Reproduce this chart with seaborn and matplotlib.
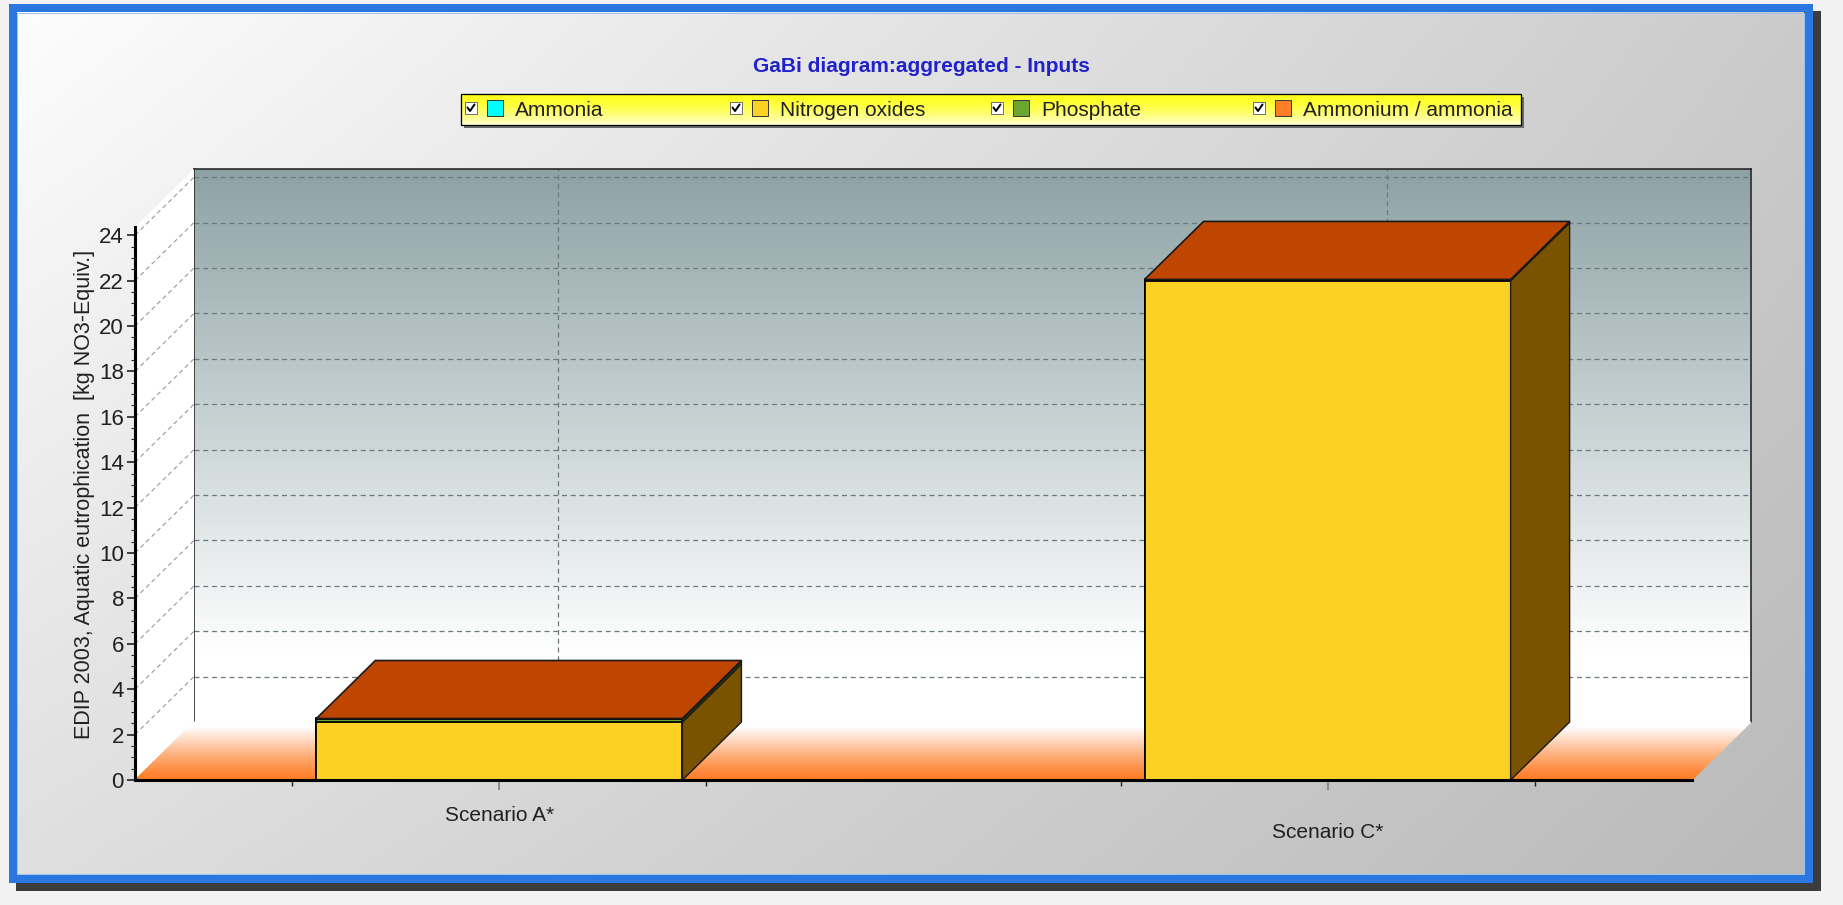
import matplotlib
matplotlib.use("Agg")
import matplotlib.pyplot as plt
from matplotlib.patches import Polygon, Rectangle
from matplotlib.ticker import MultipleLocator
from matplotlib.transforms import ScaledTranslation
import numpy as np
import seaborn as sns

# data
scenarios = ["Scenario A*", "Scenario C*"]
series = ["Ammonia", "Nitrogen oxides", "Phosphate", "Ammonium / ammonia"]
ammonia = [0.0, 0.0]
nitrogen_oxides = [2.55, 22.0]
phosphate = [0.13, 0.02]
ammonium = [0.03, 0.03]
y_ticks = list(range(0, 25, 2))

# colours per series: front, side, top face
front_col = ["#00ffff", "#fcd124", "#6aa630", "#ff7f27"]
side_col = ["#008080", "#7a5300", "#2f5010", "#7a3000"]
top_col = ["#00bfbf", "#bf9a10", "#4c8010", "#bf4600"]

# layout in pixels
W, H, DPI = 1843, 905, 100
PX_L, PX_R, PX_Y0, PX_TOP = 135, 1692, 780, 227
DEPTH_X, DEPTH_Y = 59, 58
XLIM = (-0.44, 1.44)
YLIM = (0, 24.36)
BAR_W = 0.442

sns.set_theme(style="white")
plt.rcParams["font.family"] = ["Liberation Sans", "DejaVu Sans"]

fig = plt.figure(figsize=(W / DPI, H / DPI), dpi=DPI, facecolor="#f2f2f2")

# ---- background, frame, title, legend (pixel coordinates)
bg = fig.add_axes([0, 0, 1, 1], zorder=0)
bg.set_xlim(0, W)
bg.set_ylim(H, 0)
bg.axis("off")

px2pt = 72 / DPI
bg.add_patch(Rectangle((19.5, 15.5), 1796, 870, fill=False, edgecolor="#3c3c3c",
                       linewidth=9 * px2pt, zorder=1))
gx, gy = np.meshgrid(np.linspace(0, 1, 300), np.linspace(0, 1, 150))
v = (253 - 50 * gx - 30 * gy + 13 * gx * gy) / 255
bg.imshow(np.dstack([v, v, v]), extent=(17, 1804, 875, 13), aspect="auto",
          origin="upper", zorder=2)
bg.add_patch(Rectangle((12.5, 8.5), 1796, 870, fill=False, edgecolor="#2a78df",
                       linewidth=8 * px2pt, zorder=3))
bg.add_patch(Rectangle((17, 13), 1787, 861, fill=False, edgecolor="#9cc4ee",
                       linewidth=1 * px2pt, zorder=3))

bg.text(921, 67, "GaBi diagram:aggregated - Inputs", ha="center", va="center",
        fontsize=15, fontweight="bold", color="#2222cc", zorder=5)

# legend box
bg.add_patch(Rectangle((464, 97), 1060, 31, facecolor="#6a6a6a", edgecolor="none", zorder=4))
ly = np.linspace(0, 1, 60)[:, None]
lg = np.dstack([np.ones_like(ly), np.ones_like(ly), 0.12 + 0.7 * ly ** 1.6])
bg.imshow(lg, extent=(461, 1521, 125, 94), aspect="auto", origin="upper", zorder=5)
bg.add_patch(Rectangle((461, 94), 1060, 31, fill=False, edgecolor="black",
                       linewidth=1.3 * px2pt, zorder=6))
for cx, name, col in zip([465, 730, 991, 1253], series, front_col):
    bg.add_patch(Rectangle((cx, 102), 12, 12, facecolor="white", edgecolor="#707070",
                           linewidth=1 * px2pt, zorder=6))
    bg.plot([cx + 2.5, cx + 5, cx + 9.5], [107.5, 111, 104.5], color="black",
            linewidth=2 * px2pt, zorder=7)
    bg.add_patch(Rectangle((cx + 22, 100.5), 16, 16, facecolor=col, edgecolor="#3a3a3a",
                           linewidth=1 * px2pt, zorder=6))
    bg.text(cx + 50, 110, name, ha="left", va="center", fontsize=15,
            color="#202028", zorder=7)

# ---- plot axes
frame_w = (PX_R - PX_L) / W
frame_h = (PX_Y0 - PX_TOP) / H
back = fig.add_axes([(PX_L + DEPTH_X) / W, 1 - (PX_Y0 - DEPTH_Y) / H, frame_w, frame_h], zorder=2)
ax = fig.add_axes([PX_L / W, 1 - PX_Y0 / H, frame_w, frame_h], zorder=3)
ax.patch.set_alpha(0)

dx = DEPTH_X * (XLIM[1] - XLIM[0]) / (PX_R - PX_L)
dy = DEPTH_Y * (YLIM[1] - YLIM[0]) / (PX_Y0 - PX_TOP)

# back wall with gradient and dashed grid
back.set_xlim(XLIM)
back.set_ylim(YLIM)
wy = np.linspace(0, 1, 200)[:, None]
f = np.clip((wy - 0.12) / 0.88, 0, 1)
top_rgb = np.array([0x8d, 0xa2, 0xa5]) / 255
wall = (1 - f)[..., None] * np.ones(3) + f[..., None] * top_rgb
back.imshow(wall, extent=(XLIM[0], XLIM[1], YLIM[0], YLIM[1]), aspect="auto",
            origin="lower", zorder=0)
back.set_yticks(y_ticks[1:])
back.set_xticks([0, 1])
back.grid(True, linestyle=(0, (4, 3)), color="#6b7b7d", linewidth=0.9)
back.tick_params(length=0, labelleft=False, labelbottom=False)
for side in ["left", "top", "right"]:
    back.spines[side].set_color("#2a2a2a")
    back.spines[side].set_linewidth(1.2)
back.spines["bottom"].set_visible(False)

# floor with orange gradient
n = 60
orange = np.array([0xff, 0x7a, 0x22]) / 255
for j in range(n):
    t0, t1 = j / n, (j + 1) / n
    m = min(((t0 + t1) / 2) / 0.92, 1.0) ** 1.2
    c = orange * (1 - m) + np.ones(3) * m
    ax.add_patch(Polygon([(XLIM[0] + t0 * dx, t0 * dy), (XLIM[1] + t0 * dx, t0 * dy),
                          (XLIM[1] + t1 * dx, t1 * dy), (XLIM[0] + t1 * dx, t1 * dy)],
                         facecolor=c, edgecolor=c, linewidth=0.6, clip_on=False, zorder=0.3))

# left side wall
ax.add_patch(Polygon([(XLIM[0], 0), (XLIM[0] + dx, dy), (XLIM[0] + dx, YLIM[1] + dy),
                      (XLIM[0], YLIM[1])], facecolor="white", edgecolor="none",
                     clip_on=False, zorder=0.2))
for t in y_ticks[1:]:
    ax.plot([XLIM[0], XLIM[0] + dx], [t, t + dy], linestyle=(0, (4, 3)), color="#999999",
            linewidth=0.8, clip_on=False, zorder=0.4)

# stacked bars: front faces with seaborn
stack = np.cumsum([ammonia, nitrogen_oxides, phosphate, ammonium], axis=0)
for k in reversed(range(len(series))):
    sns.barplot(x=scenarios, y=stack[k], color=front_col[k], width=BAR_W, saturation=1,
                edgecolor="black", linewidth=1.3, errorbar=None, ax=ax, zorder=2)

# 3d side and top faces
for i in range(len(scenarios)):
    xl, xr = i - BAR_W / 2, i + BAR_W / 2
    lo = 0.0
    top_k = 0
    for k in range(len(series)):
        hi = stack[k][i]
        if hi > lo:
            ax.add_patch(Polygon([(xr, lo), (xr + dx, lo + dy), (xr + dx, hi + dy), (xr, hi)],
                                 facecolor=side_col[k], edgecolor="#1a1a1a", linewidth=1.0,
                                 clip_on=False, zorder=2.5))
            top_k = k
        lo = hi
    T = stack[-1][i]
    ax.add_patch(Polygon([(xl, T), (xr, T), (xr + dx, T + dy), (xl + dx, T + dy)],
                         facecolor=top_col[top_k], edgecolor="#1a1a1a", linewidth=1.2,
                         clip_on=False, zorder=2.6))

ax.set_xlim(XLIM)
ax.set_ylim(YLIM)
ax.set_yticks(y_ticks)
ax.yaxis.set_minor_locator(MultipleLocator(0.5))
ax.set_xticks([0, 1])
ax.set_xticklabels(scenarios)
ax.set_xticks([-0.25, 0.25, 0.75, 1.25], minor=True)
ax.tick_params(axis="y", which="major", left=True, length=6, width=1.2, color="#202020",
               labelsize=16, labelcolor="#202020", pad=2)
ax.tick_params(axis="y", which="minor", left=True, length=3, width=0.8, color="#202020")
ax.tick_params(axis="x", which="major", bottom=True, length=7, width=1.2, color="#808080",
               labelsize=15, labelcolor="#202020", pad=12)
ax.tick_params(axis="x", which="minor", bottom=True, length=4, width=1.0, color="#202020")
for side in ["top", "right"]:
    ax.spines[side].set_visible(False)
for side in ["left", "bottom"]:
    ax.spines[side].set_color("black")
    ax.spines[side].set_linewidth(2.2)
    ax.spines[side].set_zorder(3)
ax.grid(False)

lbl = ax.get_xticklabels()[1]
lbl.set_transform(lbl.get_transform() + ScaledTranslation(0, -0.17, fig.dpi_scale_trans))

ax.set_ylabel("EDIP 2003, Aquatic eutrophication  [kg NO3-Equiv.]", fontsize=15.5,
              color="#202020")
ax.yaxis.set_label_coords(-0.026, 0.517)

fig.savefig("out.png", dpi=DPI, facecolor=fig.get_facecolor())
